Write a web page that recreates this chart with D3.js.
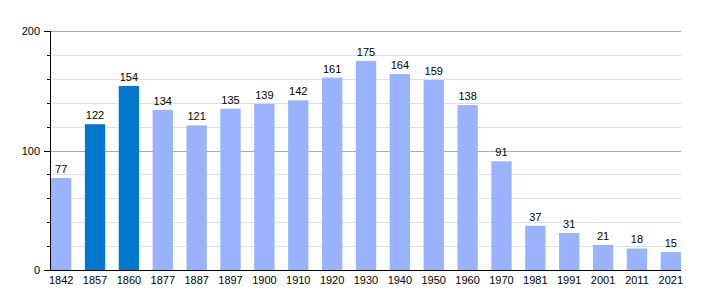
<!DOCTYPE html>
<html>
<head>
<meta charset="utf-8">
<script src="https://cdn.jsdelivr.net/npm/d3@7"></script>
<style>
  body { margin: 0; background: #fff; }
  text { font-family: "Liberation Sans", Arial, sans-serif; font-size: 11px; fill: #000; }
</style>
</head>
<body>
<div id="chart"></div>
<script>
// data
var years = ["1842","1857","1860","1877","1887","1897","1900","1910","1920","1930","1940","1950","1960","1970","1981","1991","2001","2011","2021"];
var population = [77,122,154,134,121,135,139,142,161,175,164,159,138,91,37,31,21,18,15];
var highlighted = ["1857","1860"];
var majorTicks = [0,100,200];
var minorTicks = [20,40,60,80,120,140,160,180];

var width = 710, height = 300;
// plot edges (note: "top" is a reserved window global, so use other names)
var plotLeft = 50, plotRight = 681, plotTop = 31, plotBottom = 270;

var svg = d3.select('#chart').append('svg')
    .attr('width', width)
    .attr('height', height);

var x = d3.scaleBand()
    .domain(years)
    .range([plotLeft + 1, plotRight])
    .paddingInner(0.4)
    .paddingOuter(0);

var y = d3.scaleLinear()
    .domain([0, 200])
    .range([plotBottom, plotTop]);

function yPix(d) { return Math.round(y(d)) + 0.5; }

// gridlines
svg.append('g').selectAll('line')
    .data(minorTicks)
    .enter().append('line')
      .attr('x1', plotLeft).attr('x2', plotRight)
      .attr('y1', yPix).attr('y2', yPix)
      .attr('stroke', '#e0e0e0');

svg.append('g').selectAll('line')
    .data(majorTicks.slice(1))
    .enter().append('line')
      .attr('x1', plotLeft).attr('x2', plotRight)
      .attr('y1', yPix).attr('y2', yPix)
      .attr('stroke', '#aaaaaa');

// bars
svg.append('g').selectAll('rect')
    .data(years)
    .enter().append('rect')
      .attr('x', function(d) { return x(d); })
      .attr('y', function(d, i) { return y(population[i]); })
      .attr('width', x.bandwidth())
      .attr('height', function(d, i) { return plotBottom - y(population[i]); })
      .attr('fill', function(d) { return highlighted.indexOf(d) >= 0 ? '#0077cc' : '#99b3ff'; });

// value labels
svg.append('g').selectAll('text')
    .data(years)
    .enter().append('text')
      .attr('x', function(d) { return x(d) + x.bandwidth() / 2; })
      .attr('y', function(d, i) { return y(population[i]) - 5; })
      .attr('text-anchor', 'middle')
      .text(function(d, i) { return population[i]; });

// axis lines
svg.append('line')
    .attr('x1', plotLeft + 0.5).attr('x2', plotLeft + 0.5)
    .attr('y1', plotTop).attr('y2', plotBottom + 1)
    .attr('stroke', '#000');
svg.append('line')
    .attr('x1', plotLeft).attr('x2', plotRight)
    .attr('y1', plotBottom + 0.5).attr('y2', plotBottom + 0.5)
    .attr('stroke', '#000');

// y ticks
svg.append('g').selectAll('line')
    .data(minorTicks)
    .enter().append('line')
      .attr('x1', plotLeft - 3).attr('x2', plotLeft)
      .attr('y1', yPix).attr('y2', yPix)
      .attr('stroke', '#000');
svg.append('g').selectAll('line')
    .data(majorTicks)
    .enter().append('line')
      .attr('x1', plotLeft - 6).attr('x2', plotLeft)
      .attr('y1', yPix).attr('y2', yPix)
      .attr('stroke', '#000');

svg.append('g').selectAll('text')
    .data(majorTicks)
    .enter().append('text')
      .attr('x', plotLeft - 10)
      .attr('y', function(d) { return y(d) + 4; })
      .attr('text-anchor', 'end')
      .text(function(d) { return d; });

// category labels
svg.append('g').selectAll('text')
    .data(years)
    .enter().append('text')
      .attr('x', function(d) { return x(d) + x.bandwidth() / 2; })
      .attr('y', 284)
      .attr('text-anchor', 'middle')
      .text(function(d) { return d; });
</script>
</body>
</html>
